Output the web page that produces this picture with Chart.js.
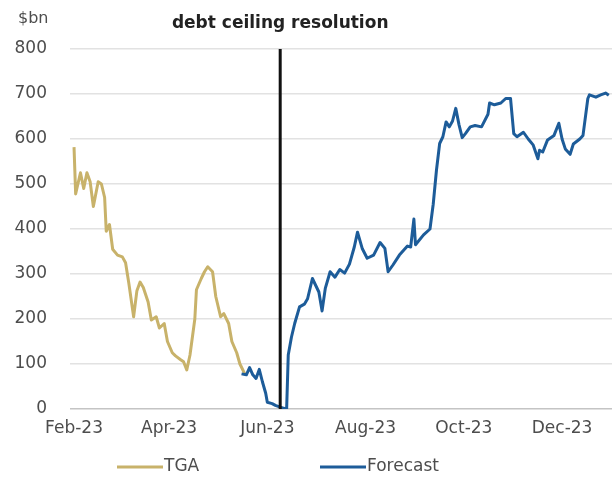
<!DOCTYPE html>
<html>
<head>
<meta charset="utf-8">
<script src="https://cdn.jsdelivr.net/npm/chart.js@4.4.1/dist/chart.umd.min.js"></script>
<style>
  html, body { margin: 0; padding: 0; background: #fff; }
  #wrap { width: 615px; height: 477px; position: relative; }
</style>
</head>
<body>
<div id="wrap"><canvas id="c"></canvas></div>
<script>
// Treasury General Account balance, $bn
const tgaDates = [
  '2023-02-01','2023-02-02','2023-02-05','2023-02-07','2023-02-09','2023-02-11','2023-02-13',
  '2023-02-16','2023-02-18','2023-02-20','2023-02-21','2023-02-23','2023-02-25','2023-02-28',
  '2023-03-03','2023-03-05','2023-03-07','2023-03-10','2023-03-12','2023-03-14','2023-03-16',
  '2023-03-19','2023-03-21','2023-03-24','2023-03-26','2023-03-29','2023-03-31','2023-04-03',
  '2023-04-05','2023-04-08','2023-04-10','2023-04-12','2023-04-14','2023-04-17','2023-04-18',
  '2023-04-21','2023-04-23','2023-04-25','2023-04-28','2023-04-30','2023-05-03','2023-05-05',
  '2023-05-08','2023-05-10','2023-05-13','2023-05-15','2023-05-18'
];
const tgaValues = [
  582, 478, 525, 490, 525, 505, 450,
  505, 500, 470, 395, 410, 355, 342,
  338, 325, 280, 205, 262, 282, 270,
  238, 198, 205, 180, 190, 150, 125,
  118, 110, 105, 87, 120, 200, 265,
  290, 305, 316, 305, 250, 205, 212,
  190, 150, 125, 100, 78
];

// Forecast path, $bn
const forecastDates = [
  '2023-05-16','2023-05-19','2023-05-21','2023-05-23','2023-05-25','2023-05-27','2023-05-29',
  '2023-05-31','2023-06-01','2023-06-04','2023-06-06','2023-06-09','2023-06-11','2023-06-13',
  '2023-06-14','2023-06-16','2023-06-18','2023-06-21','2023-06-24','2023-06-26','2023-06-29',
  '2023-07-03','2023-07-05','2023-07-07','2023-07-10','2023-07-13','2023-07-16','2023-07-19',
  '2023-07-22','2023-07-25','2023-07-27','2023-07-30','2023-08-02','2023-08-06','2023-08-10',
  '2023-08-13','2023-08-15','2023-08-18','2023-08-22','2023-08-27','2023-08-29','2023-08-31',
  '2023-09-01','2023-09-06','2023-09-10','2023-09-12','2023-09-14','2023-09-16','2023-09-18',
  '2023-09-20','2023-09-22','2023-09-24','2023-09-26','2023-09-28','2023-09-30','2023-10-02',
  '2023-10-05','2023-10-08','2023-10-12','2023-10-16','2023-10-17','2023-10-20','2023-10-24',
  '2023-10-27','2023-10-30','2023-11-01','2023-11-03','2023-11-07','2023-11-10','2023-11-13',
  '2023-11-16','2023-11-17','2023-11-19','2023-11-22','2023-11-26','2023-11-29','2023-12-01',
  '2023-12-03','2023-12-06','2023-12-08','2023-12-12','2023-12-14','2023-12-17','2023-12-18',
  '2023-12-22','2023-12-25','2023-12-28','2023-12-30'
];
const forecastValues = [
  78, 76, 92, 76, 68, 88, 60,
  35, 15, 12, 8, 4, 2, 0,
  120, 160, 190, 227, 233, 245, 290,
  260, 218, 268, 305, 293, 310, 302,
  322, 360, 393, 356, 335, 342, 370,
  357, 305, 320, 342, 362, 360, 422,
  365, 387, 400, 455, 530, 590, 605,
  638, 627, 640, 668, 632, 603, 612,
  627, 630, 627, 655, 680, 676, 680,
  690, 690, 612, 605, 615, 600, 587,
  556, 575, 571, 598, 608, 635, 600,
  578, 566, 589, 600, 608, 690, 698,
  693, 698, 702, 697
];

const tickDates = ['2023-02-01','2023-04-01','2023-06-01','2023-08-01','2023-10-01','2023-12-01'];
const tickLabels = ['Feb-23','Apr-23','Jun-23','Aug-23','Oct-23','Dec-23'];
const yTicks = [0, 100, 200, 300, 400, 500, 600, 700, 800];

const resolutionDate = '2023-06-09';
const resolutionLabel = 'debt ceiling resolution';
const unitLabel = '$bn';

const FONT = '"DejaVu Sans", "Liberation Sans", sans-serif';
const TEXT = '#4d4d4d';

// day of year (1 Jan = 1)
function dayOfYear(s) {
  const [y, m, d] = s.split('-').map(Number);
  return (Date.UTC(y, m - 1, d) - Date.UTC(y, 0, 1)) / 86400000 + 1;
}
function toPoints(dates, values) {
  return dates.map((d, i) => ({ x: dayOfYear(d), y: values[i] }));
}

Chart.defaults.font.family = FONT;
Chart.defaults.font.size = 17;
Chart.defaults.color = TEXT;

// heading over the resolution line, unit label and a bottom legend
const chartText = {
  id: 'chartText',
  afterDraw(chart) {
    const { ctx, scales: { x } } = chart;
    ctx.save();
    ctx.font = 'bold 17px ' + FONT;
    ctx.fillStyle = '#222';
    ctx.textAlign = 'center';
    ctx.textBaseline = 'middle';
    ctx.fillText(resolutionLabel, x.getPixelForValue(dayOfYear(resolutionDate)), 24);

    ctx.font = '16px ' + FONT;
    ctx.fillStyle = TEXT;
    ctx.textAlign = 'left';
    ctx.fillText(unitLabel, 18, 19);

    const starts = [117, 320];
    const ly = 467;
    chart.data.datasets.filter(ds => !ds.marker).forEach((ds, i) => {
      const x0 = starts[i];
      ctx.strokeStyle = ds.borderColor;
      ctx.lineWidth = 3;
      ctx.beginPath();
      ctx.moveTo(x0, ly);
      ctx.lineTo(x0 + 46, ly);
      ctx.stroke();
      ctx.font = '17px ' + FONT;
      ctx.fillStyle = TEXT;
      ctx.textAlign = 'left';
      ctx.fillText(ds.label, x0 + 47, ly);
    });
    ctx.restore();
  }
};

const resX = dayOfYear(resolutionDate);

new Chart(document.getElementById('c'), {
  type: 'line',
  data: {
    datasets: [
      { label: 'TGA', data: toPoints(tgaDates, tgaValues), borderColor: '#c8b26a',
        borderWidth: 3, pointRadius: 0, tension: 0, order: 2, borderJoinStyle: 'round' },
      { label: 'Forecast', data: toPoints(forecastDates, forecastValues), borderColor: '#1d5c99',
        borderWidth: 3, pointRadius: 0, tension: 0, order: 1, borderJoinStyle: 'round' },
      { label: resolutionLabel, marker: true, data: [{ x: resX, y: 0 }, { x: resX, y: 800 }],
        borderColor: '#111', borderWidth: 3, pointRadius: 0, order: 0 }
    ]
  },
  options: {
    responsive: true,
    maintainAspectRatio: false,
    animation: false,
    layout: { padding: { top: 49, right: 3, bottom: 38, left: 0 } },
    plugins: { legend: { display: false }, tooltip: { enabled: false } },
    scales: {
      x: {
        type: 'linear',
        min: 29.5,
        max: 366,
        grid: { display: false, drawTicks: false },
        border: { display: false },
        afterBuildTicks: s => { s.ticks = tickDates.map(t => ({ value: dayOfYear(t) })); },
        ticks: { callback: (v, i) => tickLabels[i], padding: 9, maxRotation: 0, autoSkip: false },
        afterFit: s => { s.height = 30; }
      },
      y: {
        min: 0,
        max: 800,
        afterBuildTicks: s => { s.ticks = yTicks.map(v => ({ value: v })); },
        ticks: { padding: 23 },
        grid: {
          drawTicks: false,
          lineWidth: 1.5,
          color: c => (c.tick && c.tick.value === 0) ? '#c4c4c4' : '#e2e2e2'
        },
        border: { display: false },
        afterFit: s => { s.width = 70; }
      }
    }
  },
  plugins: [chartText]
});
</script>
</body>
</html>
